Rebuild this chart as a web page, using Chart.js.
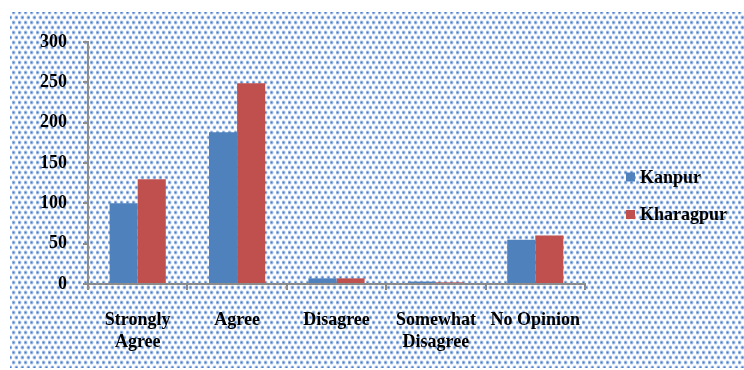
<!DOCTYPE html>
<html>
<head>
<meta charset="utf-8">
<script src="https://cdn.jsdelivr.net/npm/chart.js@4/dist/chart.umd.min.js"></script>
<style>
  html, body { margin: 0; padding: 0; background: #ffffff; }
  #wrap { width: 744px; height: 370px; position: relative; }
</style>
</head>
<body>
<div id="wrap"><canvas id="c" width="744" height="370"></canvas></div>
<script>
// Survey responses by city
const categories = [["Strongly", "Agree"], "Agree", "Disagree", ["Somewhat", "Disagree"], "No Opinion"];
const kanpur = [100, 188, 7, 3, 55];
const kharagpur = [130, 249, 7, 2, 60];
const yTicks = [0, 50, 100, 150, 200, 250, 300];

const FONT = "'Liberation Serif', 'Times New Roman', serif";
const AXIS = '#8c8c8c';

// Dotted blue fill tile for the chart backdrop
function makeDotPattern(ctx) {
  const t = document.createElement('canvas');
  t.width = 6; t.height = 10;
  const g = t.getContext('2d');
  g.fillStyle = '#ffffff';
  g.fillRect(0, 0, 6, 10);
  const dots = [[1.5, 2.5], [4.5, 7.5]];
  for (const [x, y] of dots) {
    const rg = g.createRadialGradient(x, y, 0, x, y, 2.6);
    rg.addColorStop(0, 'rgba(70,122,198,1)');
    rg.addColorStop(0.5, 'rgba(105,150,214,0.7)');
    rg.addColorStop(1, 'rgba(160,190,230,0)');
    g.fillStyle = rg;
    g.fillRect(x - 3, y - 3, 6, 6);
  }
  return ctx.createPattern(t, 'repeat');
}

const backdrop = {
  id: 'backdrop',
  beforeDraw(chart) {
    const ctx = chart.ctx;
    ctx.save();
    ctx.fillStyle = makeDotPattern(ctx);
    ctx.fillRect(10, 12, chart.width - 10, chart.height - 14);
    ctx.restore();
  }
};

// Vertical legend to the right of the plot
const sideLegend = {
  id: 'sideLegend',
  afterDraw(chart) {
    const ctx = chart.ctx;
    const x0 = chart.chartArea.right + 41;
    const y0 = 177;
    const gap = 37.5;
    ctx.save();
    ctx.font = "bold 18px " + FONT;
    ctx.textBaseline = 'middle';
    ctx.textAlign = 'left';
    chart.data.datasets.forEach((ds, i) => {
      const y = y0 + i * gap;
      ctx.fillStyle = ds.backgroundColor;
      ctx.fillRect(x0, y - 4.5, 9, 9);
      ctx.fillStyle = '#000000';
      ctx.fillText(ds.label, x0 + 14, y + 1);
    });
    ctx.restore();
  }
};

new Chart(document.getElementById('c'), {
  type: 'bar',
  data: {
    labels: categories,
    datasets: [
      { label: 'Kanpur', data: kanpur, backgroundColor: '#4f81bd' },
      { label: 'Kharagpur', data: kharagpur, backgroundColor: '#c0504d' }
    ]
  },
  options: {
    responsive: false,
    animation: false,
    devicePixelRatio: 1,
    layout: { padding: { left: 10, top: 42, right: 159, bottom: 0 } },
    datasets: { bar: { categoryPercentage: 0.565, barPercentage: 1.0 } },
    plugins: {
      legend: { display: false },
      tooltip: { enabled: false }
    },
    scales: {
      x: {
        offset: true,
        grid: {
          offset: true,
          drawOnChartArea: false,
          drawTicks: true,
          tickLength: 6,
          color: AXIS,
          lineWidth: 2
        },
        border: { display: true, color: AXIS, width: 2 },
        ticks: {
          color: '#000000',
          font: { family: FONT, size: 18, weight: 'bold', lineHeight: 1.25 },
          padding: 19,
          maxRotation: 0,
          autoSkip: false
        },
        afterFit(scale) { scale.height = 370 - 284; }
      },
      y: {
        min: 0,
        max: 300,
        afterBuildTicks(scale) { scale.ticks = yTicks.map(v => ({ value: v })); },
        grid: {
          drawOnChartArea: false,
          drawTicks: true,
          tickLength: 5,
          color: AXIS,
          lineWidth: 2
        },
        border: { display: true, color: AXIS, width: 2 },
        ticks: {
          color: '#000000',
          font: { family: FONT, size: 18, weight: 'bold' },
          padding: 16
        },
        afterFit(scale) { scale.width = 88 - 10; }
      }
    }
  },
  plugins: [backdrop, sideLegend]
});
</script>
</body>
</html>
